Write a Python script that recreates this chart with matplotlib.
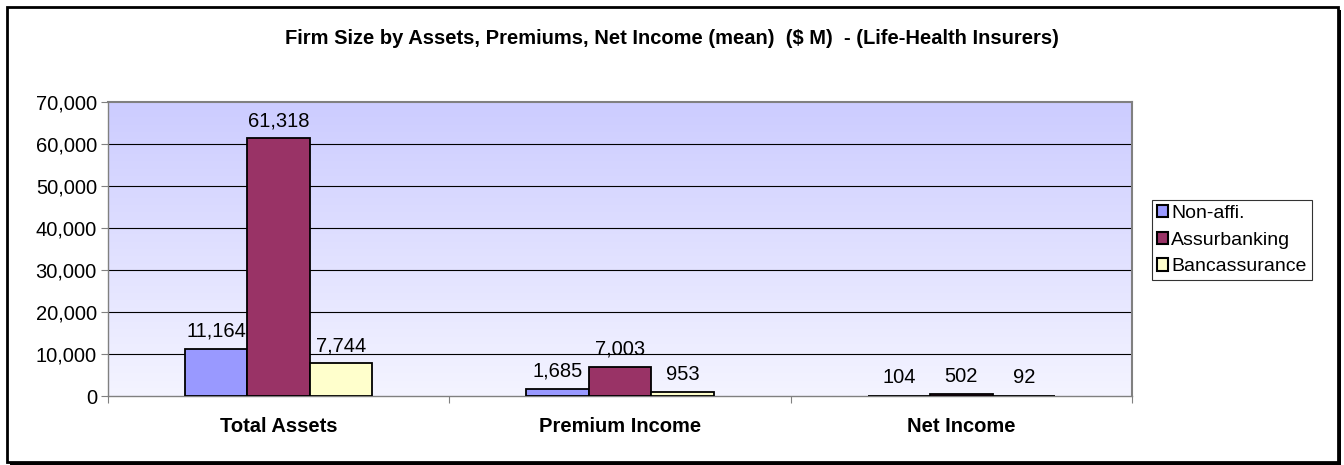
import numpy as np
import matplotlib.pyplot as plt
from matplotlib.patches import Rectangle
from matplotlib.colors import LinearSegmentedColormap

plt.rcParams['font.family'] = ['Liberation Sans', 'DejaVu Sans']

categories = ['Total Assets', 'Premium Income', 'Net Income']
series = ['Non-affi.', 'Assurbanking', 'Bancassurance']
non_affi = [11164, 1685, 104]
assurbanking = [61318, 7003, 502]
bancassurance = [7744, 953, 92]
colors = ['#9999FF', '#993366', '#FFFFCC']
yticks = [0, 10000, 20000, 30000, 40000, 50000, 60000, 70000]

fig = plt.figure(figsize=(13.44, 4.65), dpi=100)
W, H = 1344, 465
ax = fig.add_axes([108 / W, 1 - 396 / H, (1132 - 108) / W, (396 - 102) / H])

# gradient background
cmap = LinearSegmentedColormap.from_list('bg', ['#F4F4FF', '#CCCCFF'])
grad = np.linspace(0, 1, 256).reshape(-1, 1)
ax.imshow(grad, aspect='auto', cmap=cmap, origin='lower',
          extent=[-0.5, 2.5, 0, 70000], zorder=0)

x = np.arange(len(categories))
bw = 0.183
for i, (vals, name) in enumerate(zip([non_affi, assurbanking, bancassurance], series)):
    pos = x + (i - 1) * bw
    ax.bar(pos, vals, bw, color=colors[i], edgecolor='black', linewidth=1.3,
           label=name, zorder=3)
    for p, v in zip(pos, vals):
        ax.annotate(f'{v:,}', (p, v), xytext=(0, 6), textcoords='offset points',
                    ha='center', va='bottom', fontsize=14.5, zorder=4)

ax.set_xlim(-0.5, 2.5)
ax.set_ylim(0, 70000)
ax.set_yticks(yticks)
ax.set_yticklabels([f'{t:,}' for t in yticks], fontsize=14.5)
for t in yticks[1:-1]:
    ax.axhline(t, color='black', linewidth=0.8, zorder=1)

ax.set_xticks([-0.5, 0.5, 1.5, 2.5])
ax.set_xticklabels([])
ax.set_xticks(x, minor=True)
ax.set_xticklabels(categories, minor=True, fontsize=14.5, fontweight='bold')
ax.tick_params(axis='x', which='minor', length=0, pad=15)
ax.tick_params(axis='x', which='major', length=5, color='#808080')
ax.tick_params(axis='y', length=5, color='#808080', pad=3)

for s in ['top', 'right']:
    ax.spines[s].set_color('#808080')
    ax.spines[s].set_linewidth(1.5)
for s in ['left', 'bottom']:
    ax.spines[s].set_color('#808080')
    ax.spines[s].set_linewidth(1.0)

leg = ax.legend(loc='upper left', bbox_to_anchor=(1.0195, 0.667), fontsize=14,
                frameon=True, fancybox=False, edgecolor='black', handlelength=0.6,
                handleheight=0.6, handletextpad=0.15, borderpad=0.25, labelspacing=0.5,
                borderaxespad=0)
leg.get_frame().set_linewidth(0.8)
for h in leg.legend_handles:
    h.set_linewidth(1.5)

fig.text(0.5, 1 - 38 / H, 'Firm Size by Assets, Premiums, Net Income (mean)  ($ M)  - (Life-Health Insurers)',
         ha='center', va='center', fontsize=14.5, fontweight='bold')

# outer chart frame with shadow
fig.patches.append(Rectangle((10 / W, 1 - 466 / H), 1331 / W, 456 / H,
                             transform=fig.transFigure, facecolor='black', edgecolor='none', zorder=-2))
fig.patches.append(Rectangle((7 / W, 1 - 462 / H), 1331 / W, 455 / H,
                             transform=fig.transFigure, facecolor='white', edgecolor='black',
                             linewidth=2, zorder=-1))

fig.savefig('out.png', dpi=100)
